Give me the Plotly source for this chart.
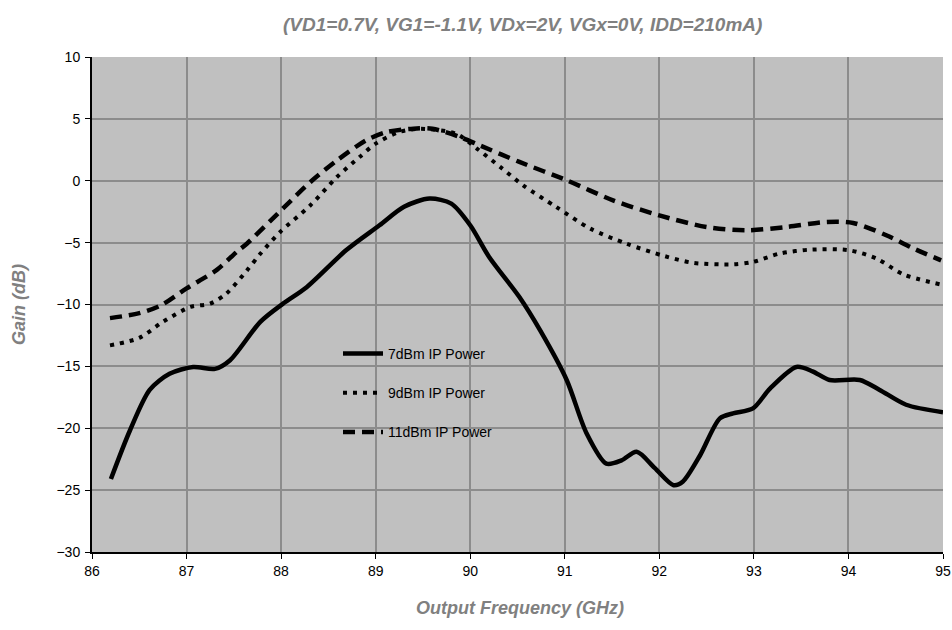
import plotly.graph_objects as go

freq_7 = [86.2, 86.4, 86.61, 86.82, 87.07, 87.3, 87.46, 87.78, 88.02, 88.27, 88.69, 89.04, 89.3,
          89.57, 89.8, 90.0, 90.2, 90.52, 90.74, 91.02, 91.23, 91.44, 91.6, 91.76, 91.95, 92.15,
          92.25, 92.43, 92.64, 92.78, 92.99, 93.17, 93.45, 93.62, 93.8, 94.12, 94.33, 94.61, 95.0]
gain_7 = [-24.1, -20.2, -16.9, -15.6, -15.05, -15.2, -14.5, -11.4, -9.93, -8.6, -5.6, -3.6, -2.1,
          -1.44, -1.85, -3.6, -6.16, -9.4, -12.1, -16.1, -20.4, -22.86, -22.6, -21.9, -23.2, -24.6,
          -24.3, -22.2, -19.2, -18.8, -18.4, -16.8, -15.05, -15.4, -16.1, -16.1, -16.9, -18.1, -18.7]

freq_9 = [86.19, 86.5, 86.75, 87.04, 87.25, 87.42, 87.64, 87.78, 87.99, 88.31, 88.59, 88.83, 89.0,
          89.25, 89.47, 89.85, 90.07, 90.32, 90.56, 90.91, 91.27, 91.65, 92.06, 92.36, 92.78, 92.99,
          93.27, 93.59, 94.01, 94.3, 94.58, 94.98]
gain_9 = [-13.3, -12.7, -11.4, -10.2, -9.93, -9.12, -7.24, -5.9, -4.14, -1.98, 0.3, 1.92, 3.0,
          3.94, 4.2, 3.8, 2.6, 1.1, -0.37, -2.12, -3.87, -5.08, -6.1, -6.64, -6.75, -6.56,
          -5.89, -5.57, -5.62, -6.3, -7.56, -8.39]

freq_11 = [86.19, 86.5, 86.72, 87.0, 87.32, 87.53, 87.64, 88.02, 88.31, 88.59, 88.9, 89.12, 89.4,
           89.6, 89.89, 90.1, 90.52, 91.02, 91.51, 92.0, 92.5, 92.92, 93.34, 93.77, 94.05, 94.4,
           94.69, 94.98]
gain_11 = [-11.1, -10.7, -10.1, -8.7, -7.2, -5.75, -5.07, -2.24, -0.1, 1.64, 3.27, 3.94, 4.21,
           4.2, 3.54, 2.86, 1.52, 0.04, -1.58, -2.8, -3.74, -4.0, -3.74, -3.33, -3.41, -4.4,
           -5.48, -6.43]

names = ["7dBm IP Power", "9dBm IP Power", "11dBm IP Power"]
x_ticks = [86, 87, 88, 89, 90, 91, 92, 93, 94, 95]
y_ticks = [-30, -25, -20, -15, -10, -5, 0, 5, 10]

W, H = 952, 630
L, T, R, B = 92, 57, W - 943, H - 552

fig = go.Figure()
fig.add_trace(go.Scatter(x=freq_7, y=gain_7, name=names[0], mode="lines", legendgroup="a",
                         line=dict(color="black", width=4.5, shape="spline", smoothing=0.8)))
fig.add_trace(go.Scatter(x=freq_9, y=gain_9, name=names[1], mode="lines", legendgroup="b",
                         line=dict(color="black", width=4, dash="4px,6px", shape="spline", smoothing=0.8)))
fig.add_trace(go.Scatter(x=freq_11, y=gain_11, name=names[2], mode="lines", legendgroup="c",
                         line=dict(color="black", width=4.5, dash="12px,7px", shape="spline", smoothing=0.8)))

title_font = dict(family="Liberation Sans, Arial, sans-serif", size=18, color="#808080")

pw, ph = W - L - R, H - T - B


def px_x(p):  # page x -> plot paper fraction
    return (p - L) / pw


def px_y(p):  # page y -> plot paper fraction
    return (H - B - p) / ph


fig.update_layout(
    width=W, height=H,
    margin=dict(l=L, r=R, t=T, b=B, autoexpand=False),
    paper_bgcolor="white",
    plot_bgcolor="#c0c0c0",
    font=dict(family="Liberation Sans, Arial, sans-serif", size=14, color="black"),
    showlegend=True,
    legend=dict(x=px_x(338), y=px_y(338), xanchor="left", yanchor="top",
                bgcolor="rgba(0,0,0,0)", font=dict(size=14), tracegroupgap=18, itemwidth=40),
    xaxis=dict(range=[86, 95], tickvals=x_ticks, showgrid=True, gridcolor="#8c8c8c", gridwidth=1.5,
               showline=True, linecolor="black", linewidth=2, ticks="outside", ticklen=5,
               tickcolor="black", zeroline=False, automargin=False, ticklabeloverflow="allow"),
    yaxis=dict(range=[-30, 10], tickvals=y_ticks, showgrid=True, gridcolor="#8c8c8c", gridwidth=1.5,
               showline=True, linecolor="black", linewidth=2, ticks="outside", ticklen=5,
               tickcolor="black", zeroline=False, automargin=False, ticklabelstandoff=2),
    annotations=[
        dict(text="<b><i>(VD1=0.7V, VG1=-1.1V, VDx=2V, VGx=0V, IDD=210mA)</i></b>",
             xref="paper", yref="paper", x=px_x(522), y=px_y(24), xanchor="center", yanchor="middle",
             showarrow=False, font=dict(title_font, size=19)),
        dict(text="<b><i>Output Frequency (GHz)</i></b>",
             xref="paper", yref="paper", x=px_x(520), y=px_y(608), xanchor="center", yanchor="middle",
             showarrow=False, font=title_font),
        dict(text="<b><i>Gain (dB)</i></b>", textangle=-90,
             xref="paper", yref="paper", x=px_x(19), y=px_y(305), xanchor="center", yanchor="middle",
             showarrow=False, font=title_font),
    ],
)

fig.write_html("out.html", config={"displayModeBar": False},
               post_script="document.body.style.margin='0';document.body.style.overflow='hidden';")
